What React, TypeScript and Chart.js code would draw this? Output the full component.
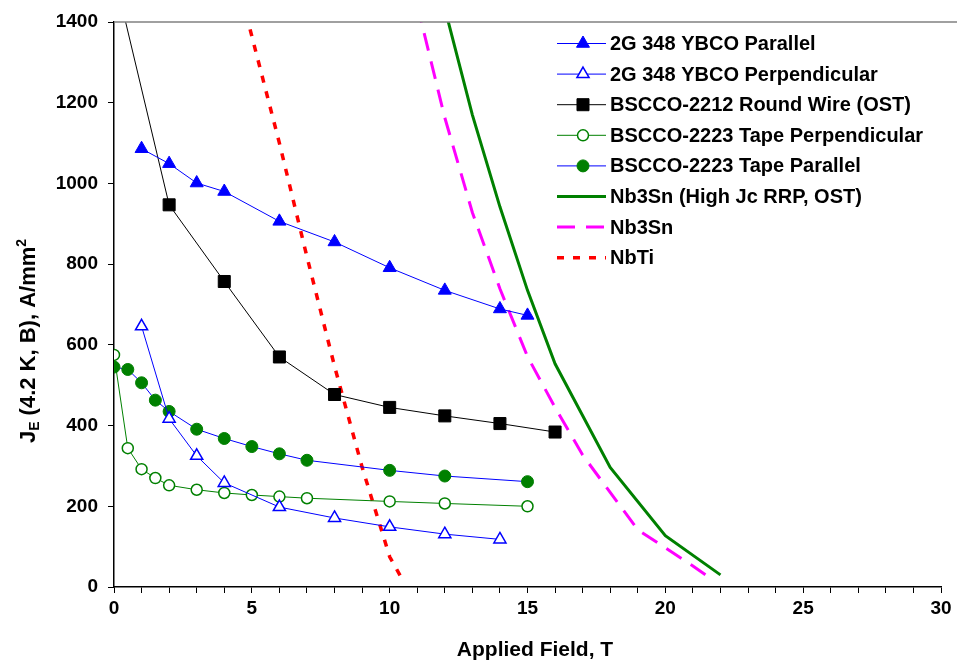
import React, { useEffect, useRef } from 'react';
import { Chart, registerables } from 'chart.js';
import { drawPoint } from 'chart.js/helpers';

Chart.register(...registerables);

const FONT = '"Liberation Sans", Arial, Helvetica, sans-serif';

// ---- data (Applied field in T, J_E in A/mm^2) ----
const seriesNames = [
  '2G 348 YBCO Parallel',
  '2G 348 YBCO Perpendicular',
  'BSCCO-2212 Round Wire (OST)',
  'BSCCO-2223 Tape Perpendicular',
  'BSCCO-2223 Tape Parallel',
  'Nb3Sn (High Jc RRP, OST)',
  'Nb3Sn',
  'NbTi',
];

const ybcoParField = [1, 2, 3, 4, 6, 8, 10, 12, 14, 15];
const ybcoParJe = [1086, 1049, 1001, 980, 906, 855, 791, 735, 689, 673];

const ybcoPerpField = [1, 2, 3, 4, 6, 8, 10, 12, 14];
const ybcoPerpJe = [646, 417, 325, 258, 198, 171, 149, 131, 118];

const bscco2212Field = [0, 2, 4, 6, 8, 10, 12, 14, 16];
const bscco2212Je = [1521, 947, 757, 570, 477, 445, 424, 405, 384];

const bscco2223Field = [0, 0.5, 1, 1.5, 2, 3, 4, 5, 6, 7, 10, 12, 15];
const bscco2223PerpJe = [575, 344, 292, 270, 252, 241, 233, 228, 224, 220, 212, 207, 200];
const bscco2223ParJe = [545, 539, 506, 463, 435, 391, 368, 348, 330, 314, 289, 275, 261];

const nb3snRrpField = [12, 13, 14, 15, 16, 18, 20, 22];
const nb3snRrpJe = [1434, 1170, 942, 735, 553, 296, 127, 30];

const nb3snField = [11, 12, 13, 14, 15, 16, 17, 19, 21, 21.5];
const nb3snJe = [1442, 1163, 928, 739, 571, 445, 327, 142, 52, 28];

const nbtiField = [4.5, 5, 6, 7, 8, 9, 10, 10.4];
const nbtiJe = [1497, 1365, 1100, 818, 547, 297, 75, 26];

const xMajorTicks = [0, 5, 10, 15, 20, 25, 30];
const yTicks = [0, 200, 400, 600, 800, 1000, 1200, 1400];

const xTitle = 'Applied Field, T';

function pts(xs: number[], ys: number[]) {
  return xs.map((x, i) => ({ x, y: ys[i] }));
}

const BLUE = '#0000ff';
const GREEN = '#008000';

const legendPlugin = {
  id: 'customLegend',
  afterDraw(chart: any) {
    const ctx: CanvasRenderingContext2D = chart.ctx;
    chart.data.datasets.forEach((ds: any, i: number) => {
      const y = 43.5 + i * 30.6;
      ctx.save();
      ctx.strokeStyle = ds.borderColor;
      ctx.lineWidth = ds.borderWidth;
      ctx.setLineDash(ds.borderDash || []);
      ctx.beginPath();
      ctx.moveTo(557, y);
      ctx.lineTo(606, y);
      ctx.stroke();
      ctx.setLineDash([]);
      if (ds.pointRadius > 0) {
        ctx.fillStyle = ds.pointBackgroundColor;
        ctx.strokeStyle = ds.pointBorderColor;
        ctx.lineWidth = ds.pointBorderWidth;
        drawPoint(ctx, { pointStyle: ds.pointStyle, radius: ds.pointRadius, rotation: 0, borderWidth: ds.pointBorderWidth } as any, 583, y);
      }
      ctx.fillStyle = '#000';
      ctx.font = `bold 20px ${FONT}`;
      ctx.textBaseline = 'middle';
      ctx.textAlign = 'left';
      ctx.fillText(ds.label, 610, y + 1);
      ctx.restore();
    });
  },
};

const framePlugin = {
  id: 'frameAndTitles',
  afterDraw(chart: any) {
    const ctx: CanvasRenderingContext2D = chart.ctx;
    const a = chart.chartArea;
    ctx.save();
    // top border of plot area
    ctx.strokeStyle = '#808080';
    ctx.lineWidth = 1.5;
    ctx.beginPath();
    ctx.moveTo(a.left, a.top);
    ctx.lineTo(chart.width, a.top);
    ctx.stroke();

    // x title
    ctx.fillStyle = '#000';
    ctx.font = `bold 21px ${FONT}`;
    ctx.textAlign = 'center';
    ctx.textBaseline = 'alphabetic';
    ctx.fillText(xTitle, 535, 656);

    // y title with subscript / superscript
    ctx.translate(27, 341);
    ctx.rotate(-Math.PI / 2);
    const big = `bold 22px ${FONT}`;
    const small = `bold 14px ${FONT}`;
    const parts = [
      { t: 'J', f: big, dy: 0 },
      { t: 'E', f: small, dy: 4 },
      { t: ' (4.2 K, B), A/mm', f: big, dy: 0 },
      { t: '2', f: small, dy: -9 },
    ];
    let total = 0;
    for (const p of parts) {
      ctx.font = p.f;
      total += ctx.measureText(p.t).width;
    }
    let x = -total / 2;
    ctx.textAlign = 'left';
    for (const p of parts) {
      ctx.font = p.f;
      ctx.fillText(p.t, x, 8 + p.dy);
      x += ctx.measureText(p.t).width;
    }
    ctx.restore();
  },
};

export default function App() {
  const ref = useRef<HTMLCanvasElement | null>(null);

  useEffect(() => {
    if (!ref.current) return;
    const chart = new Chart(ref.current, {
      type: 'line',
      data: {
        datasets: [
          {
            label: seriesNames[0],
            data: pts(ybcoParField, ybcoParJe),
            borderColor: BLUE, borderWidth: 1,
            pointStyle: 'triangle', pointRadius: 7.5,
            pointBackgroundColor: BLUE, pointBorderColor: BLUE, pointBorderWidth: 1,
          },
          {
            label: seriesNames[1],
            data: pts(ybcoPerpField, ybcoPerpJe),
            borderColor: BLUE, borderWidth: 1,
            pointStyle: 'triangle', pointRadius: 7,
            pointBackgroundColor: '#ffffff', pointBorderColor: BLUE, pointBorderWidth: 1.5,
          },
          {
            label: seriesNames[2],
            data: pts(bscco2212Field, bscco2212Je),
            borderColor: '#000000', borderWidth: 1,
            pointStyle: 'rect', pointRadius: 8.5,
            pointBackgroundColor: '#000000', pointBorderColor: '#000000', pointBorderWidth: 1,
          },
          {
            label: seriesNames[3],
            data: pts(bscco2223Field, bscco2223PerpJe),
            borderColor: GREEN, borderWidth: 1,
            pointStyle: 'circle', pointRadius: 5.5,
            pointBackgroundColor: '#ffffff', pointBorderColor: GREEN, pointBorderWidth: 1.5,
          },
          {
            label: seriesNames[4],
            data: pts(bscco2223Field, bscco2223ParJe),
            borderColor: BLUE, borderWidth: 1,
            pointStyle: 'circle', pointRadius: 6,
            pointBackgroundColor: GREEN, pointBorderColor: GREEN, pointBorderWidth: 1,
          },
          {
            label: seriesNames[5],
            data: pts(nb3snRrpField, nb3snRrpJe),
            borderColor: GREEN, borderWidth: 3,
            pointRadius: 0,
          },
          {
            label: seriesNames[6],
            data: pts(nb3snField, nb3snJe),
            borderColor: '#ff00ff', borderWidth: 3, borderDash: [18, 11],
            pointRadius: 0,
          },
          {
            label: seriesNames[7],
            data: pts(nbtiField, nbtiJe),
            borderColor: '#ff0000', borderWidth: 3.5, borderDash: [7, 9],
            pointRadius: 0,
          },
        ] as any,
      },
      options: {
        animation: false,
        responsive: false,
        devicePixelRatio: 1,
        layout: { padding: { left: 0, top: 22, right: 16, bottom: 0 } },
        plugins: { legend: { display: false }, tooltip: { enabled: false } },
        elements: { line: { tension: 0, fill: false } },
        scales: {
          x: {
            type: 'linear',
            min: 0,
            max: 30,
            afterFit: (s: any) => { s.height = 74; },
            afterBuildTicks: (s: any) => {
              const out = [];
              for (let v = 0; v <= 30; v++) out.push({ value: v });
              s.ticks = out;
            },
            ticks: {
              autoSkip: false,
              maxRotation: 0,
              padding: 4,
              color: '#000',
              font: { family: FONT, size: 19, weight: 'bold' },
              callback: (v: any) => (xMajorTicks.includes(Number(v)) ? String(v) : ''),
            },
            grid: { drawOnChartArea: false, drawTicks: true, tickLength: 6, color: '#000', lineWidth: 1 },
            border: { display: true, color: '#000', width: 1.5 },
          },
          y: {
            type: 'linear',
            min: 0,
            max: 1400,
            afterFit: (s: any) => { s.width = 114; },
            afterBuildTicks: (s: any) => { s.ticks = yTicks.map((v) => ({ value: v })); },
            ticks: {
              padding: 10,
              color: '#000',
              font: { family: FONT, size: 19, weight: 'bold' },
              callback: (v: any) => String(v),
            },
            grid: { drawOnChartArea: false, drawTicks: true, tickLength: 6, color: '#000', lineWidth: 1 },
            border: { display: true, color: '#000', width: 1.5 },
          },
        },
      } as any,
      plugins: [legendPlugin, framePlugin],
    });
    return () => chart.destroy();
  }, []);

  return (
    <div style={{ position: 'absolute', left: 0, top: 0, width: 957, height: 661, background: '#fff' }}>
      <canvas ref={ref} width={957} height={661} style={{ width: 957, height: 661, display: 'block' }} />
    </div>
  );
}
